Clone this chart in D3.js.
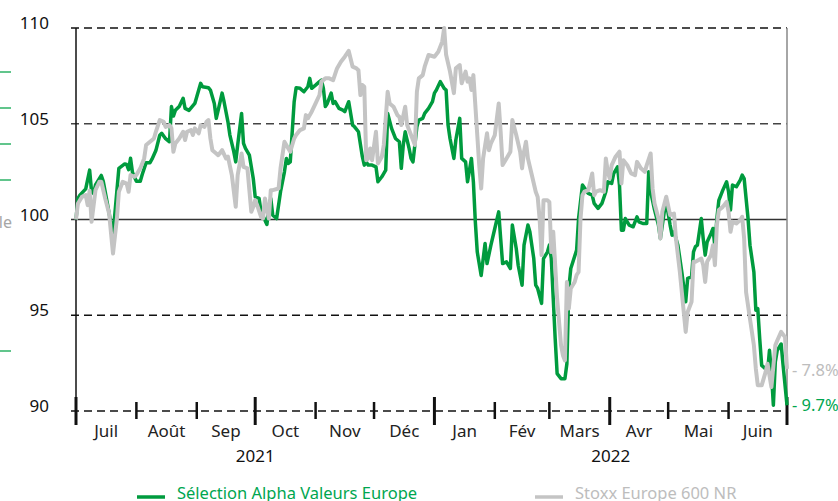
<!DOCTYPE html>
<html>
<head>
  <meta charset="utf-8">
  <script src="https://d3js.org/d3.v7.min.js"></script>
  <style>
    body { margin: 0; background: #fff; overflow: hidden; }
    svg { display: block; font-family: "Noto Sans", "Open Sans", sans-serif; }
  </style>
</head>
<body>
<div id="container"></div>
<script>
// day offset from 1 Jul 2021, index level (base 100)
const selection = [
  [0,100],[1,101.1],[2,101.27],[5,101.6],[7,102.58],[8,101.45],[9,101.36],[10,101.8],[13,102.3],[14,102.0],
  [16,100.9],[19,99.2],[22,102.67],[25,102.9],[26,102.87],[27,102.6],[28,103.2],[29,102.45],[31,102.0],[33,102.0],
  [34,102.35],[36,102.97],[38,102.97],[39,103.15],[41,103.6],[43,104.4],[44,104.5],[46,104.22],[48,104.06],[49,105.9],
  [50,105.4],[51,105.7],[53,105.9],[55,106.33],[56,105.8],[58,105.7],[61,106.06],[62,106.41],[64,107.11],[65,106.93],
  [68,106.88],[69,106.76],[71,106.06],[72,105.28],[73,105.71],[75,106.6],[76,106.15],[78,105.1],[79,104.41],[81,103.54],
  [82,103.01],[83,103.89],[85,105.54],[86,103.97],[87,103.71],[89,103.36],[91,102.14],[92,101.18],[94,101.1],[95,100.4],
  [97,99.96],[98,99.74],[99,100.66],[100,101.1],[101,100.23],[103,100.05],[105,101.45],[107,102.49],[108,103.19],[109,102.93],
  [110,103.01],[112,106.15],[113,106.88],[115,106.85],[117,106.67],[119,106.93],[120,107.37],[121,106.85],[123,107.02],[125,107.2],
  [126,107.28],[127,106.85],[128,105.9],[129,106.06],[131,106.6],[132,106.06],[133,106.15],[135,105.8],[137,105.71],[138,105.63],
  [140,106.15],[142,104.93],[143,104.84],[145,104.58],[147,103.28],[148,102.84],[149,103.01],[150,102.84],[152,102.84],[154,102.75],
  [155,101.97],[157,102.23],[159,102.58],[160,105.54],[162,104.76],[164,104.23],[166,104.06],[167,102.67],[168,103.89],[169,104.58],
  [171,103.71],[172,103.19],[173,103.01],[175,104.84],[176,105.19],[178,105.28],[179,105.54],[181,105.8],[183,106.15],[184,106.6],
  [185,106.76],[187,107.2],[189,106.85],[190,106.76],[191,104.93],[192,104.23],[194,103.19],[195,104.15],[197,105.28],[198,103.19],
  [200,103.01],[201,101.97],[203,103.19],[204,101.97],[205,99.88],[206,98.3],[208,97.08],[210,98.75],[211,97.7],[213,98.66],
  [215,99.53],[217,100.4],[218,99.01],[219,97.7],[221,97.79],[223,97.44],[224,99.71],[226,98.49],[227,97.61],[229,96.57],
  [230,98.66],[232,99.71],[233,99.36],[235,97.96],[236,96.57],[237,96.4],[239,95.62],[240,97.96],[242,98.3],[243,98.66],
  [244,97.96],[245,95.86],[246,93.77],[247,91.95],[249,91.69],[251,91.69],[252,92.47],[253,96.4],[254,97.44],[257,98.4],
  [258,100.05],[260,101.8],[263,101.36],[265,101.27],[266,100.84],[268,100.58],[270,100.84],[272,101.45],[273,101.97],[275,101.88],
  [276,102.4],[278,102.75],[279,101.8],[280,99.44],[281,99.44],[282,100.05],[284,99.7],[286,99.62],[288,100.14],[289,99.88],
  [291,99.79],[293,99.79],[294,102.49],[295,101.45],[297,100.5],[299,99.71],[300,99.01],[302,100.4],[303,100.92],[305,99.71],
  [306,99.18],[307,99.36],[309,98.66],[311,97.26],[313,95.7],[314,96.92],[316,97.0],[317,98.31],[318,98.58],[319,98.66],
  [321,100.05],[322,98.99],[323,98.14],[324,98.83],[326,99.27],[327,99.53],[328,98.57],[329,100.05],[330,101.0],[332,101.52],
  [334,101.97],[335,101.45],[336,100.5],[337,101.8],[339,101.71],[341,102.06],[342,102.32],[343,102.14],[345,100.05],[346,98.66],
  [348,97.26],[349,95.26],[350,95.35],[351,93.77],[352,92.38],[354,92.2],[355,92.03],[356,93.17],[357,92.03],[358,90.3],
  [359,92.56],[360,93.17],[362,93.5],[363,92.38],[365,90.3]
];

const stoxx = [
  [0,100],[1,100.84],[3,101.18],[5,101.27],[6,100.75],[7,101.5],[8,99.88],[10,101.53],[12,101.97],[13,101.97],
  [15,101.1],[17,100.31],[19,98.22],[21,100.05],[22,101.45],[24,101.97],[26,101.88],[27,101.45],[28,102.32],[30,102.23],
  [31,102.32],[33,102.67],[35,103.19],[36,103.89],[38,104.06],[40,104.23],[41,104.58],[43,105.19],[45,105.1],[46,104.84],
  [48,104.93],[49,104.76],[50,103.54],[51,103.97],[53,104.23],[55,104.58],[56,104.15],[57,104.58],[59,104.67],[60,104.41],
  [61,104.76],[63,104.5],[64,104.93],[66,104.84],[67,105.1],[68,105.19],[69,104.23],[70,103.62],[72,103.45],[73,103.36],
  [75,103.62],[77,103.19],[78,103.28],[80,102.32],[82,100.66],[83,102.32],[85,103.45],[86,102.75],[88,102.67],[90,100.4],
  [91,100.66],[92,101.01],[93,100.75],[95,100.14],[96,100.05],[97,101.1],[99,100.05],[100,101.53],[101,101.53],[104,101.62],
  [105,102.67],[107,104.06],[109,103.71],[110,103.54],[112,104.23],[113,104.41],[115,104.67],[117,104.76],[118,105.45],[119,105.28],
  [121,105.63],[123,106.06],[125,106.5],[126,107.2],[128,107.37],[130,107.37],[132,107.28],[134,107.89],[136,108.24],[138,108.5],
  [140,108.8],[142,107.98],[144,107.89],[145,107.8],[146,106.5],[147,107.02],[148,106.93],[149,103.1],[150,103.19],[151,103.71],
  [152,103.1],[154,104.58],[155,102.93],[157,103.28],[158,103.89],[160,106.67],[161,106.06],[163,105.89],[165,105.45],[166,105.36],
  [167,104.93],[169,105.89],[170,104.93],[172,104.41],[174,103.89],[175,106.67],[176,107.37],[178,107.54],[179,107.98],[181,108.59],
  [184,108.5],[186,108.76],[188,109.29],[189,110.0],[190,108.6],[192,107.72],[194,106.6],[195,107.89],[197,108.06],[198,107.11],
  [200,107.72],[201,107.2],[202,107.37],[203,106.76],[204,107.54],[206,104.41],[207,102.84],[208,101.62],[209,103.19],[211,104.5],
  [212,103.62],[213,103.97],[215,104.41],[217,106.06],[218,104.58],[219,102.84],[221,103.19],[223,103.54],[224,105.19],[226,104.41],
  [228,103.54],[229,102.67],[230,103.54],[231,104.06],[232,103.19],[234,102.32],[236,101.45],[237,101.18],[238,100.05],[239,98.14],
  [240,101.01],[242,101.01],[243,100.92],[244,98.3],[245,99.36],[246,97.61],[247,95.86],[249,93.43],[250,92.9],[251,92.64],
  [252,96.74],[253,95.35],[254,96.4],[256,96.74],[257,97.1],[258,97.26],[259,100.05],[260,101.27],[261,101.45],[263,101.53],
  [265,102.4],[266,101.27],[267,101.45],[269,101.53],[271,101.45],[272,103.19],[273,102.49],[274,102.14],[275,102.84],[277,103.28],
  [279,103.54],[280,101.88],[281,103.1],[283,102.84],[285,102.41],[287,102.32],[288,103.01],[290,102.67],[292,102.49],[293,102.84],
  [295,103.45],[296,101.62],[297,100.84],[299,100.05],[300,99.01],[301,100.4],[303,101.19],[305,100.23],[307,100.31],[308,98.99],
  [310,97.26],[312,95.17],[313,94.13],[314,95.17],[316,95.7],[317,97.79],[318,97.79],[321,97.96],[322,97.61],[323,96.74],
  [324,97.79],[326,98.14],[327,98.66],[328,97.61],[329,99.71],[330,100.49],[332,100.66],[334,100.92],[335,100.4],[336,99.36],
  [337,99.88],[339,99.79],[341,99.97],[342,100.14],[343,99.01],[344,96.2],[346,94.8],[348,93.43],[349,92.21],[350,91.34],
  [352,91.34],[354,92.03],[355,92.47],[357,91.25],[359,93.43],[360,93.68],[362,94.13],[364,93.86],[365,92.2]
];

const yTicks = [90, 95, 100, 105, 110];
const months = ["Juil", "Août", "Sep", "Oct", "Nov", "Déc", "Jan", "Fév", "Mars", "Avr", "Mai", "Juin"];
const years = ["2021", "2022"];
const seriesNames = ["Sélection Alpha Valeurs Europe", "Stoxx Europe 600 NR"];

const W = 838, H = 501;
const plotL = 76, plotR = 787, plotT = 28, plotB = 411;
const green = "#009B3E", grey = "#C4C4C4";

const start = new Date(2021, 6, 1), end = new Date(2022, 6, 1);
const x = d3.scaleTime().domain([start, end]).range([plotL, plotR]);
const y = d3.scaleLinear().domain([90, 110]).range([plotB, plotT]);
const dayToDate = d => d3.timeDay.offset(start, d);

const svg = d3.select("#container").append("svg")
  .attr("width", W).attr("height", H);

// cut-off remnants of the panel on the left
svg.selectAll(".stub").data([72, 108, 144, 180, 351]).enter().append("line")
  .attr("x1", 0).attr("x2", 11).attr("y1", d => d).attr("y2", d => d)
  .attr("stroke", "#2DB266").attr("stroke-width", 1.5);
svg.append("text").attr("x", 12).attr("y", 228).attr("text-anchor", "end")
  .attr("font-size", 16).attr("fill", "#A6A6A6").text("échelle");

// horizontal grid
svg.selectAll(".grid").data(yTicks).enter().append("line")
  .attr("x1", plotL - 5).attr("x2", plotR)
  .attr("y1", d => y(d)).attr("y2", d => y(d))
  .attr("stroke", d => d === 100 ? "#333" : (d === 105 ? "#444" : "#111"))
  .attr("stroke-width", 1.5)
  .attr("stroke-dasharray", d => d === 100 ? null : "8,5");

svg.selectAll(".ylab").data(yTicks).enter().append("text")
  .attr("x", 49).attr("y", d => y(d) + 1)
  .attr("text-anchor", "end").attr("font-size", 17).attr("fill", "#111")
  .text(d => d);

// right border
svg.append("line").attr("x1", plotR).attr("x2", plotR).attr("y1", plotT).attr("y2", plotB)
  .attr("stroke", "#888").attr("stroke-width", 1.5);

// left axis
svg.append("line").attr("x1", plotL).attr("x2", plotL).attr("y1", plotT).attr("y2", plotB + 14)
  .attr("stroke", "#111").attr("stroke-width", 1.5);

// month ticks
const monthStarts = d3.timeMonth.range(start, d3.timeDay.offset(end, 1));
svg.selectAll(".mtick").data(monthStarts).enter().append("line")
  .attr("x1", d => x(d)).attr("x2", d => x(d))
  .attr("y1", d => d.getMonth() % 3 === 0 ? plotB - 14 : plotB - 9)
  .attr("y2", d => d.getMonth() % 3 === 0 ? plotB + 14 : plotB + 8)
  .attr("stroke", "#111")
  .attr("stroke-width", d => d.getMonth() % 3 === 0 ? 3 : 2.5);

svg.selectAll(".mlab").data(months).enter().append("text")
  .attr("x", (d, i) => (x(monthStarts[i]) + x(monthStarts[i + 1])) / 2)
  .attr("y", 437)
  .attr("text-anchor", "middle").attr("font-size", 17).attr("fill", "#222")
  .text(d => d);

svg.selectAll(".yrlab").data(years).enter().append("text")
  .attr("x", (d, i) => (x(monthStarts[i * 6]) + x(monthStarts[i * 6 + 6])) / 2)
  .attr("y", 462)
  .attr("text-anchor", "middle").attr("font-size", 17).attr("fill", "#111")
  .text(d => d);

// series
const line = d3.line().x(d => x(dayToDate(d[0]))).y(d => y(d[1]));

svg.append("path").datum(selection)
  .attr("fill", "none").attr("stroke", green).attr("stroke-width", 3.5)
  .attr("stroke-linejoin", "round").attr("d", line);

svg.append("path").datum(stoxx)
  .attr("fill", "none").attr("stroke", grey).attr("stroke-width", 4)
  .attr("stroke-linejoin", "round").attr("d", line);

// end labels
const fmt = v => "- " + d3.format(".1f")(Math.abs(v - 100)) + "%";
const lastSel = selection[selection.length - 1][1];
const lastStx = stoxx[stoxx.length - 1][1];
svg.append("text").attr("x", 792).attr("y", y(lastStx) + 7)
  .attr("font-size", 16.5).attr("fill", "#BDBDBD").text(fmt(lastStx));
svg.append("text").attr("x", 792).attr("y", y(lastSel) + 6)
  .attr("font-size", 16.5).attr("fill", "#00A64F").text(fmt(lastSel));

// legend
const legend = [
  {name: seriesNames[0], color: green, text: "#00A64F", x: 137},
  {name: seriesNames[1], color: grey, text: "#BDBDBD", x: 535}
];
legend.forEach(l => {
  svg.append("line").attr("x1", l.x).attr("x2", l.x + 28).attr("y1", 497).attr("y2", 497)
    .attr("stroke", l.color).attr("stroke-width", 3.5);
  svg.append("text").attr("x", l.x + 40).attr("y", 499)
    .attr("font-size", 16.5).attr("fill", l.text).text(l.name);
});
</script>
</body>
</html>
